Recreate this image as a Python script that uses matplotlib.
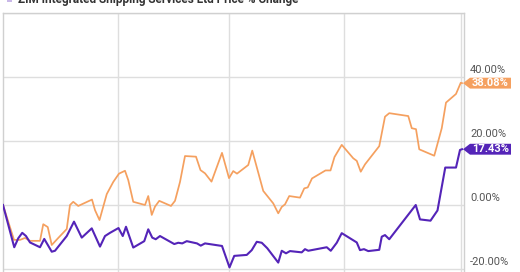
import matplotlib
matplotlib.use("Agg")
import matplotlib.pyplot as plt
from matplotlib.patches import Polygon

# ---- data (days since start, % change) ----
orange_days = [0, 8.8, 13.6, 17.6, 21.6, 29.6, 32.2, 35.8, 39.0, 44.2, 51.0, 53.6, 56.2, 60.2,
               71.2, 73.6, 77.2, 83.0, 88.2, 92.8, 97.6, 100.2, 104.2, 113.6, 116.2, 119.0,
               121.6, 125.0, 134.4, 137.6, 141.6, 145.6, 154.4, 158.0, 161.6, 166.8, 175.2,
               180.8, 184.2, 187.2, 196.2, 199.4, 208.2, 216.2, 220.2, 223.0, 225.6, 229.0,
               237.6, 241.0, 243.8, 247.2, 258.0, 262.0, 265.2, 271.0, 280.2, 283.0, 286.2,
               289.6, 301.0, 305.6, 309.0, 324.2, 327.0, 330.4, 333.0, 345.0, 351.0, 354.4,
               362.4, 366.2, 367.2]
orange_vals = [0, -10.9, -10.9, -10.3, -11.2, -11.2, -6.0, -6.9, -12.5, -10.3, -7.5, 0.0, 1.0, -0.3,
               1.7, -1.6, -4.7, 3.4, 7.2, 9.8, 10.7, 7.8, 1.0, 0.0, 2.8, -3.1,
               -0.5, 1.3, -0.3, 1.3, 7.2, 15.3, 15.1, 10.9, 9.9, 7.3, 16.3,
               8.4, 10.6, 9.8, 12.5, 17.0, 4.4, 0.5, -2.6, -0.6, 0.2, 2.8,
               2.3, 5.2, 5.5, 8.3, 10.8, 10.8, 15.0, 18.8, 14.6, 13.8, 10.4,
               12.7, 18.4, 27.6, 28.7, 27.8, 24.0, 23.7, 17.4, 15.4, 24.0, 32.0,
               34.7, 38.2, 38.08]

purple_days = [0, 9.0, 12.2, 15.4, 18.4, 21.6, 29.6, 33.0, 39.0, 41.6, 51.0, 56.8, 63.0, 71.0,
               77.6, 81.6, 85.6, 92.4, 95.8, 98.4, 104.2, 113.0, 116.2, 119.4, 122.2, 125.6,
               137.0, 140.2, 143.4, 147.0, 155.2, 158.2, 161.6, 175.2, 181.2, 185.0, 195.0,
               199.0, 203.0, 207.0, 211.4, 220.2, 223.0, 226.4, 229.6, 239.0, 241.6, 244.2,
               259.0, 262.2, 267.0, 271.0, 283.0, 285.6, 288.8, 292.2, 301.0, 303.0, 305.6,
               309.0, 330.2, 333.6, 342.0, 347.6, 353.8, 362.4, 365.6, 367.2]
purple_vals = [0, -13.2, -10.4, -8.7, -9.7, -11.7, -13.2, -10.6, -14.6, -14.3, -9.7, -5.2, -10.2, -7.3,
               -13.0, -9.7, -8.7, -7.2, -9.7, -6.8, -13.3, -11.3, -7.6, -10.2, -10.7, -9.7,
               -12.2, -11.8, -12.0, -11.3, -12.0, -12.7, -12.0, -12.8, -19.5, -15.9, -15.6,
               -14.1, -11.5, -11.8, -13.5, -18.0, -14.3, -15.1, -14.4, -14.8, -13.8, -14.3,
               -13.2, -14.3, -11.8, -8.8, -11.7, -14.1, -13.8, -14.4, -14.0, -9.9, -9.4,
               -10.7, 0.0, -4.5, -4.9, -1.7, 11.7, 11.7, 17.2, 17.43]

ytick_vals = [-20, 0, 20, 40, 60]
ytick_labels = ["-20.00%", "0.00%", "20.00%", "40.00%", ""]
vgrid_days = [92, 180.8, 272.8, 366.4]
end_labels = ["38.08%", "17.43%"]
title = "ZIM Integrated Shipping Services Ltd Price % Change"

ORANGE = "#F5A05F"
PURPLE = "#5424B8"

plt.rcParams['font.family'] = ['Roboto', 'DejaVu Sans']

W, H = 520, 272
fig = plt.figure(figsize=(W / 100, H / 100), dpi=100)
ax_left = 3 / W
ax_top = 1 - 13 / H
ax_bot = 1 - 285 / H
ax = fig.add_axes([ax_left, ax_bot, 461 / W, ax_top - ax_bot])

ax.set_xlim(0, 368.8)
ax.set_ylim(-25, 60)

for v in ytick_vals:
    ax.axhline(v, color="#dedede", lw=1.0, zorder=0)
for d in vgrid_days:
    ax.axvline(d, color="#dedede", lw=1.0, zorder=0)

ax.plot(orange_days, orange_vals, color=ORANGE, lw=1.25, zorder=3)
ax.plot(purple_days, purple_vals, color=PURPLE, lw=1.5, zorder=4)

ax.set_xticks([])
ax.set_yticks([])
for s in ["top", "left", "right"]:
    ax.spines[s].set_color("#d0d0d0")
    ax.spines[s].set_linewidth(1.0)
ax.spines["bottom"].set_visible(False)

# right-side tick labels
trans = ax.get_yaxis_transform()
for v, lab in zip(ytick_vals, ytick_labels):
    if lab:
        ax.text(1.0 + 6 / 461, v + 0.6, lab, transform=trans, ha="left", va="bottom",
                fontsize=8, color="#555555", clip_on=False)

# end-value tags
for vals, col, lab in [(orange_vals, ORANGE, end_labels[0]), (purple_vals, PURPLE, end_labels[1])]:
    yv = vals[-1]
    x0 = 1.0 - 1 / 461
    xa = 1.0 + 6 / 461
    x1 = 1.0 + 47 / 461
    hh = 1.7
    poly = Polygon([(x0, yv), (xa, yv + hh), (x1, yv + hh), (x1, yv - hh), (xa, yv - hh)],
                   closed=True, transform=trans, facecolor=col, edgecolor="none",
                   clip_on=False, zorder=6)
    ax.add_patch(poly)
    ax.text((xa + x1) / 2, yv, lab, transform=trans, ha="center", va="center",
            fontsize=8, color="white", fontweight="bold", clip_on=False, zorder=7)

# legend title, cut off at the top as in the reference
fig.text(18 / W, 1 - 2.5 / H, title, ha="left", va="baseline", fontsize=8.5,
         color="#333333", fontweight="bold")
fig.patches.append(plt.Rectangle((7 / W, 1 - 2 / H), 5 / W, 3 / H, transform=fig.transFigure,
                                 facecolor="#c9b8e8", edgecolor="none"))

fig.savefig("out.png", dpi=100)
